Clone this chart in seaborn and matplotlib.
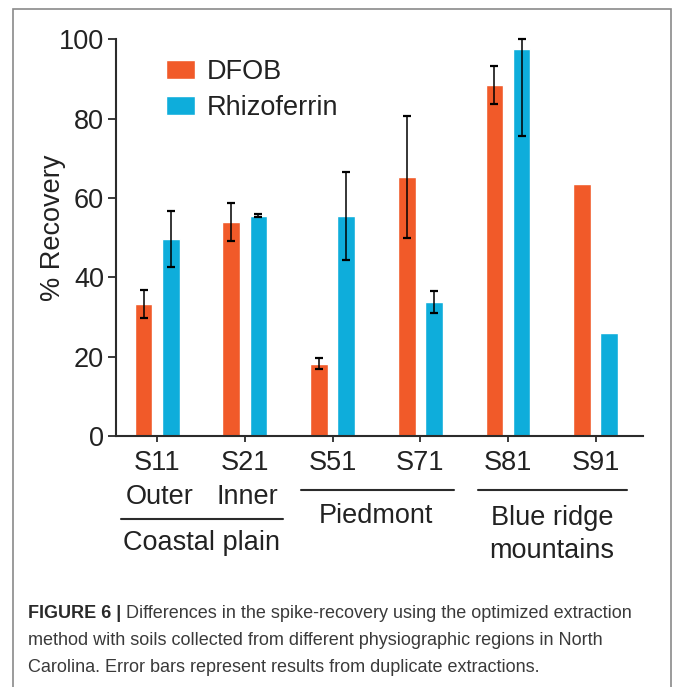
import numpy as np
import pandas as pd
import matplotlib
matplotlib.use("Agg")
import matplotlib.pyplot as plt
import matplotlib.transforms as mtransforms
from matplotlib.patches import Rectangle
import seaborn as sns

# values
samples = ['S11', 'S21', 'S51', 'S71', 'S81', 'S91']
sublabels = ['Outer', 'Inner', '', '', '', '']
dfob = [33.3, 53.9, 18.2, 65.3, 88.5, 63.5]
dfob_err = [3.6, 4.8, 1.4, 15.4, 4.8, np.nan]
rhizo = [49.7, 55.5, 55.5, 33.8, 97.6, 26.0]
rhizo_err = [7.0, 0.4, 11.1, 2.8, 22.0, np.nan]
groups = [['Coastal plain'], ['Piedmont'], ['Blue ridge', 'mountains']]
group_members = [[0, 1], [2, 3], [4, 5]]

df = pd.DataFrame({
    'sample': samples * 2,
    'reagent': ['DFOB'] * 6 + ['Rhizoferrin'] * 6,
    'recovery': dfob + rhizo,
})

sns.set_style('white')
plt.rcParams['font.family'] = ['Liberation Sans', 'DejaVu Sans']
fs = 19.5
txt = '#222222'

fig = plt.figure(figsize=(6.73, 6.87), dpi=100)
ax = fig.add_axes([116/673, 1-436/687, (643-116)/673, (436-39.3)/687])

sns.barplot(data=df, x='sample', y='recovery', hue='reagent',
            palette=['#F15A29', '#0EADDB'], saturation=1, width=0.62, gap=0.35,
            errorbar=None, ax=ax)

# error bars (GraphPad style: clipped at axis top)
for cont, vals, errs in zip(ax.containers, [dfob, rhizo], [dfob_err, rhizo_err]):
    for bar, v, e in zip(cont, vals, errs):
        if np.isnan(e):
            continue
        hi = min(v + e, 100) - v
        ax.errorbar(bar.get_x() + bar.get_width()/2, v, yerr=[[e], [hi]],
                    fmt='none', ecolor='black', elinewidth=1.1, capsize=3.2, capthick=1.6,
                    zorder=5, clip_on=False)

ax.set_ylim(0, 100)
ax.set_xlim(-0.47, 5.54)
ax.set_yticks(np.arange(0, 101, 20))
ax.set_xlabel('')
ax.set_ylabel('% Recovery', fontsize=fs, color=txt)
ax.yaxis.set_label_coords(-0.095, 0.525)
for s in ['top', 'right']:
    ax.spines[s].set_visible(False)
for s in ['left', 'bottom']:
    ax.spines[s].set_linewidth(1.5)
    ax.spines[s].set_color('#2b2b2b')
ax.tick_params(axis='y', direction='out', length=5.5, width=1.3, color='#2b2b2b',
               labelsize=fs, labelcolor=txt, pad=3, left=True)
ax.tick_params(axis='x', direction='out', length=4, width=1.3, color='#2b2b2b',
               labelsize=fs, labelcolor=txt, pad=6, bottom=True)

h, l = ax.get_legend_handles_labels()
ax.legend(h, l, loc='upper left', bbox_to_anchor=(0.094, 0.95), frameon=False,
          fontsize=fs, handlelength=1.07, handleheight=0.67, handletextpad=0.45,
          labelspacing=0.36, borderpad=0, borderaxespad=0, labelcolor=txt)

# sub labels and group brackets under the axis
trans = mtransforms.blended_transform_factory(ax.transData, ax.transAxes)
for i, s in enumerate(sublabels):
    if s:
        ax.text(i + 0.03, -0.171, s, transform=trans, ha='center', va='baseline',
                fontsize=fs, color=txt)
line_y = [-0.2085, -0.136, -0.136]
line_half = [0.92, 0.87, 0.85]
text_y = [-0.287, -0.219, -0.224]
for lines, mem, ly, hw, ty in zip(groups, group_members, line_y, line_half, text_y):
    c = np.mean(mem)
    ax.plot([c + 0.01 - hw, c + 0.01 + hw], [ly, ly], transform=trans, color='#2b2b2b',
            lw=1.5, clip_on=False)
    for k, g in enumerate(lines):
        ax.text(c, ty - k * 0.084, g, transform=trans, ha='center', va='baseline',
                fontsize=fs, color=txt)

# figure frame and caption
fig.patches.append(Rectangle((13/673, -0.05), (671-13)/673, 1.05 - 9/687,
                             transform=fig.transFigure, fill=False,
                             edgecolor='#8a8a8a', lw=1.2))
cap_fs = 13
cx = 28/673
t1 = fig.text(cx, 1-618/687, 'FIGURE 6 |', fontsize=cap_fs, fontweight='bold',
              color='#2a2a2a', va='baseline')
ax.annotate(' Differences in the spike-recovery using the optimized extraction',
            xy=(1, 0), xycoords=t1, va='bottom', ha='left', fontsize=cap_fs,
            color='#3a3a3a', annotation_clip=False)
fig.text(cx, 1-645/687, 'method with soils collected from different physiographic regions in North',
         fontsize=cap_fs, color='#3a3a3a', va='baseline')
fig.text(cx, 1-672/687, 'Carolina. Error bars represent results from duplicate extractions.',
         fontsize=cap_fs, color='#3a3a3a', va='baseline')

fig.savefig('out.png', dpi=100)
